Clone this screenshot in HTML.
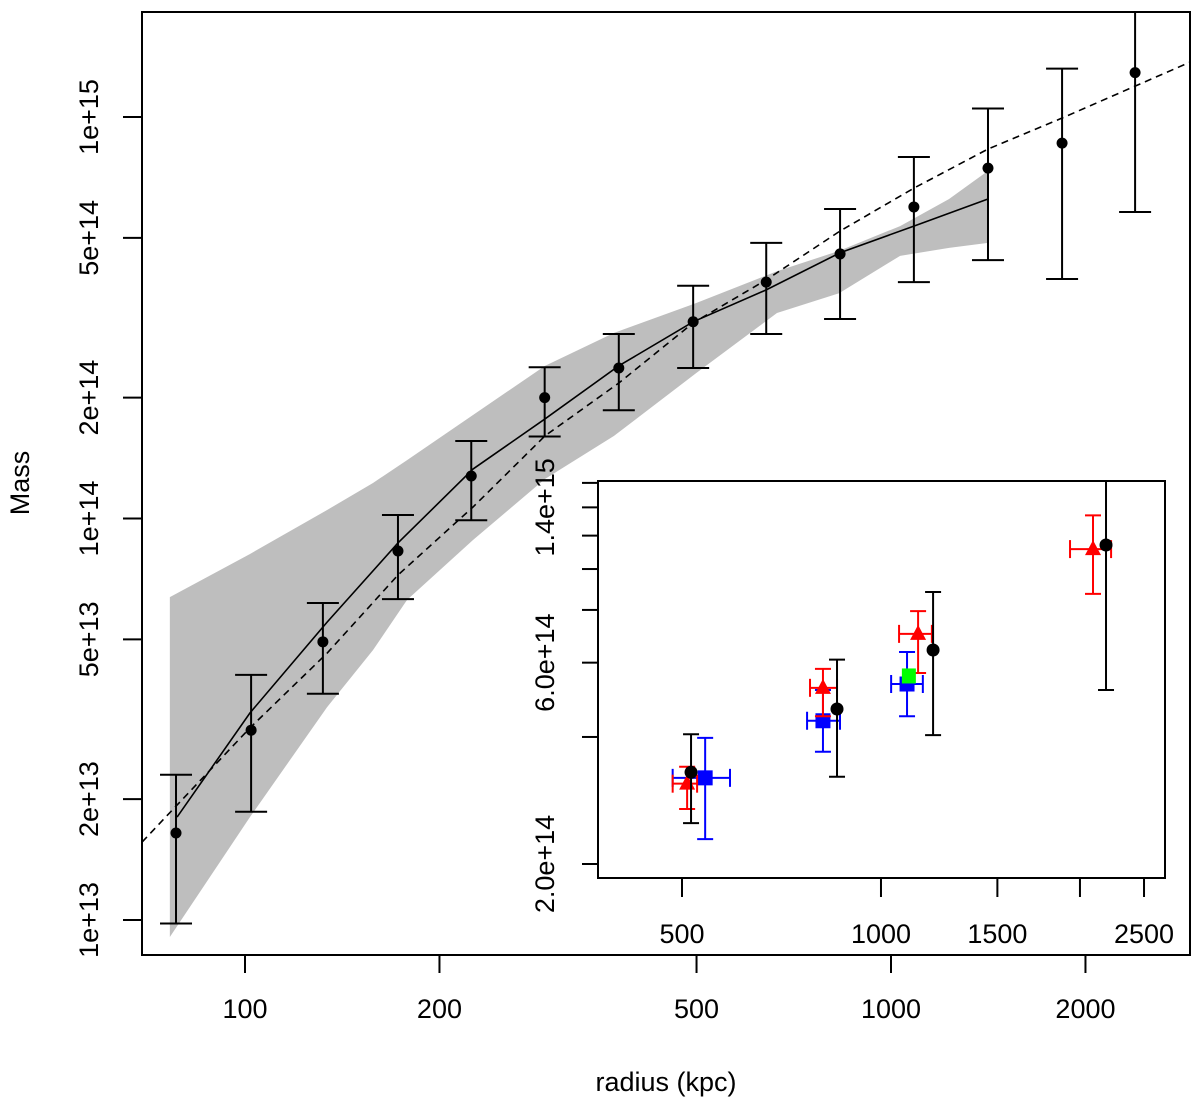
<!DOCTYPE html>
<html><head><meta charset="utf-8"><style>
html,body{margin:0;padding:0;background:#fff;}
svg{display:block;font-family:"Liberation Sans",Arial,sans-serif;}
</style></head><body>
<svg id="chart" width="1200" height="1106" viewBox="0 0 1200 1106" xmlns="http://www.w3.org/2000/svg">
<defs>
<clipPath id="mainClip"><rect x="142" y="12" width="1048" height="943"/></clipPath>
<clipPath id="insetClip"><rect x="598" y="481" width="567" height="397"/></clipPath>
</defs>
<g id="main"></g>
<g id="inset"></g>
</svg>
<script>
// ---- main plot data ----
const radii = [78.2,102.2,132,172.5,224,291,379,494,641,834,1085,1413,1840,2387];
const masses = [1.647e13,2.97e13,4.93e13,8.3e13,1.276e14,2.0e14,2.37e14,3.09e14,3.88e14,4.56e14,5.97e14,7.46e14,8.61e14,1.29e15];
const massHi = [2.3e13,4.08e13,6.16e13,1.02e14,1.56e14,2.38e14,2.88e14,3.8e14,4.86e14,5.9e14,7.95e14,1.05e15,1.32e15,1.9e15];
const massLo = [0.98e13,1.86e13,3.66e13,6.3e13,9.9e13,1.6e14,1.86e14,2.37e14,2.88e14,3.14e14,3.88e14,4.4e14,3.95e14,5.8e14];
const bandR = [76.5,101.8,134,157.8,178.2,225.4,291.3,372.6,499,666,831,1033,1230,1413];
const bandHi = [6.37e13,8.16e13,1.05e14,1.226e14,1.398e14,1.81e14,2.40e14,2.90e14,3.44e14,4.13e14,4.64e14,5.35e14,6.25e14,7.34e14];
const bandLo = [9.07e12,1.805e13,3.39e13,4.70e13,6.27e13,8.84e13,1.254e14,1.606e14,2.30e14,3.25e14,3.64e14,4.51e14,4.72e14,4.86e14];
const fitR = [78.5,101.8,134,172.5,225.4,291.3,379,494,641,834,1085,1413];
const fitM = [1.805e13,3.28e13,5.52e13,8.69e13,1.328e14,1.77e14,2.40e14,3.09e14,3.71e14,4.59e14,5.35e14,6.25e14];
const modelR = [69.3,101.8,134,172.5,225.4,291.3,379,494,641,834,1085,1413,1840,2904];
const modelM = [1.564e13,3.01e13,4.62e13,7.23e13,1.068e14,1.606e14,2.175e14,3.07e14,3.93e14,5.20e14,6.65e14,8.32e14,9.94e14,1.37e15];
const xTicks = [100,200,500,1000,2000];
const xTickLabels = ["100","200","500","1000","2000"];
const yTicks = [1e13,2e13,5e13,1e14,2e14,5e14,1e15];
const yTickLabels = ["1e+13","2e+13","5e+13","1e+14","2e+14","5e+14","1e+15"];
// ---- inset data ----
const inBlackR = [516,858,1199,2190];
const inBlackM = [3.3e14,4.66e14,6.43e14,1.14e15];
const inBlackHi = [4.06e14,6.1e14,8.82e14,2.2e15];
const inBlackLo = [2.5e14,3.22e14,4.04e14,5.17e14];
const inRedR = [509,817,1138,2093];
const inRedRlo = [484,781,1065,1932];
const inRedRhi = [527,858,1194,2229];
const inRedM = [3.10e14,5.23e14,7.02e14,1.115e15];
const inRedHi = [3.40e14,5.80e14,7.95e14,1.34e15];
const inRedLo = [2.70e14,4.48e14,5.67e14,8.73e14];
const inBlueR = [542,817,1095];
const inBlueRlo = [484,773,1036];
const inBlueRhi = [591,867,1157];
const inBlueM = [3.20e14,4.37e14,5.34e14];
const inBlueHi = [3.98e14,5.17e14,6.36e14];
const inBlueLo = [2.29e14,3.69e14,4.48e14];
const inGreenR = [1102];
const inGreenM = [5.58e14];
const inXTicks = [500,1000,1500,2000,2500];
const inXTickLabels = ["500","1000","1500","","2500"];
const inYTicks = [2e14,4e14,6e14,8e14,1e15,1.2e15,1.4e15,1.6e15];
const inYTickLabels = ["2.0e+14","","6.0e+14","","","","1.4e+15",""];

const NS="http://www.w3.org/2000/svg";
function mk(parent,tag,attrs){const e=document.createElementNS(NS,tag);for(const k in attrs)e.setAttribute(k,attrs[k]);parent.appendChild(e);return e;}
const L=Math.log10;
const X=r=>245+646*L(r/100);
const Y=m=>920-401.5*L(m/1e13);
const IX=r=>682+661*L(r/500);
const IY=m=>864-422*L(m/2e14);

const main=document.getElementById('main');
const mc=mk(main,'g',{'clip-path':'url(#mainClip)'});


let pts=bandR.map((r,i)=>X(r)+','+Y(bandHi[i]));
for(let i=bandR.length-1;i>=0;i--)pts.push(X(bandR[i])+','+Y(bandLo[i]));
const band=mk(mc,'polygon',{points:pts.join(' '),fill:'#bebebe',stroke:'none'});


const fit=mk(mc,'polyline',{points:fitR.map((r,i)=>X(r)+','+Y(fitM[i])).join(' '),fill:'none',stroke:'#000','stroke-width':1.6});


const model=mk(mc,'polyline',{points:modelR.map((r,i)=>X(r)+','+Y(modelM[i])).join(' '),fill:'none',stroke:'#000','stroke-width':1.6,'stroke-dasharray':'7,5'});


radii.forEach((r,i)=>{
  const g=mk(mc,'g',{stroke:'#000','stroke-width':2});
  
  
  const x=X(r),y1=Y(massHi[i]),y2=Y(massLo[i]);
  mk(g,'line',{x1:x,x2:x,y1:y1,y2:y2});
  mk(g,'line',{x1:x-16,x2:x+16,y1:y1,y2:y1});
  mk(g,'line',{x1:x-16,x2:x+16,y1:y2,y2:y2});
  mk(g,'circle',{cx:x,cy:Y(masses[i]),r:5.5,fill:'#000',stroke:'none'});
});
const frame=mk(main,'rect',{x:142,y:12,width:1048,height:943,fill:'none',stroke:'#000','stroke-width':2});


xTicks.forEach((t,i)=>{
  const x=X(t);
  const g=mk(main,'g',{});
  
  
  mk(g,'line',{x1:x,x2:x,y1:955,y2:973,stroke:'#000','stroke-width':2});
  const tx=mk(g,'text',{x:x,y:1018,'font-size':27,'text-anchor':'middle'});tx.textContent=xTickLabels[i];
});
yTicks.forEach((t,i)=>{
  const y=Y(t);
  const g=mk(main,'g',{});
  
  
  mk(g,'line',{x1:123,x2:142,y1:y,y2:y,stroke:'#000','stroke-width':2});
  const tx=mk(g,'text',{x:0,y:0,'font-size':27,'text-anchor':'middle',transform:'translate(98,'+y+') rotate(-90)'});tx.textContent=yTickLabels[i];
});
const xt=mk(main,'text',{x:666,y:1091,'font-size':27,'text-anchor':'middle'});xt.textContent='radius (kpc)';


const yt=mk(main,'text',{x:0,y:0,'font-size':27,'text-anchor':'middle',transform:'translate(29,483) rotate(-90)'});yt.textContent='Mass';



const ins=document.getElementById('inset');
const bg=mk(ins,'rect',{x:598,y:481,width:567,height:397,fill:'#fff',stroke:'none'});


const ic=mk(ins,'g',{'clip-path':'url(#insetClip)'});


function errX(g,col,x1,x2,y){mk(g,'line',{x1:x1,x2:x2,y1:y,y2:y,stroke:col,'stroke-width':2});mk(g,'line',{x1:x1,x2:x1,y1:y-9,y2:y+9,stroke:col,'stroke-width':2});mk(g,'line',{x1:x2,x2:x2,y1:y-9,y2:y+9,stroke:col,'stroke-width':2});}
function errY(g,col,x,y1,y2,w){mk(g,'line',{x1:x,x2:x,y1:y1,y2:y2,stroke:col,'stroke-width':2});mk(g,'line',{x1:x-w,x2:x+w,y1:y1,y2:y1,stroke:col,'stroke-width':2});mk(g,'line',{x1:x-w,x2:x+w,y1:y2,y2:y2,stroke:col,'stroke-width':2});}
inBlueR.forEach((r,i)=>{
  const g=mk(ic,'g',{});
  
  
  const x=IX(r),y=IY(inBlueM[i]);
  errX(g,'#0000ff',IX(inBlueRlo[i]),IX(inBlueRhi[i]),y);
  errY(g,'#0000ff',x,IY(inBlueHi[i]),IY(inBlueLo[i]),8);
  mk(g,'rect',{x:x-7.5,y:y-7.5,width:15,height:15,fill:'#0000ff'});
});
inRedR.forEach((r,i)=>{
  const g=mk(ic,'g',{});
  
  
  const x=IX(r),y=IY(inRedM[i]);
  errX(g,'#ff0000',IX(inRedRlo[i]),IX(inRedRhi[i]),y);
  errY(g,'#ff0000',x,IY(inRedHi[i]),IY(inRedLo[i]),8);
  mk(g,'polygon',{points:(x-8)+','+(y+6)+' '+(x+8)+','+(y+6)+' '+x+','+(y-9),fill:'#ff0000'});
});
inGreenR.forEach((r,i)=>{
  const g=mk(ic,'g',{});
  
  
  const x=IX(r),y=IY(inGreenM[i]);
  mk(g,'rect',{x:x-7,y:y-7.5,width:14,height:15,fill:'#00ff00'});
});
inBlackR.forEach((r,i)=>{
  const g=mk(ic,'g',{});
  
  
  const x=IX(r);
  errY(g,'#000',x,IY(inBlackHi[i]),IY(inBlackLo[i]),8);
  mk(g,'circle',{cx:x,cy:IY(inBlackM[i]),r:6.5,fill:'#000'});
});
const iframe=mk(ins,'rect',{x:598,y:481,width:567,height:397,fill:'none',stroke:'#000','stroke-width':2});


inXTicks.forEach((t,i)=>{
  const x=IX(t);
  const g=mk(ins,'g',{});
  
  
  mk(g,'line',{x1:x,x2:x,y1:878,y2:897,stroke:'#000','stroke-width':2});
  if(inXTickLabels[i]){const tx=mk(g,'text',{x:x,y:943,'font-size':27,'text-anchor':'middle'});tx.textContent=inXTickLabels[i];}
});
inYTicks.forEach((t,i)=>{
  const y=IY(t);
  const g=mk(ins,'g',{});
  
  
  mk(g,'line',{x1:582,x2:598,y1:y,y2:y,stroke:'#000','stroke-width':2});
  if(inYTickLabels[i]){const tx=mk(g,'text',{x:0,y:0,'font-size':27,'text-anchor':'middle',transform:'translate(554,'+y+') rotate(-90)'});tx.textContent=inYTickLabels[i];}
});
</script>
</body></html>
